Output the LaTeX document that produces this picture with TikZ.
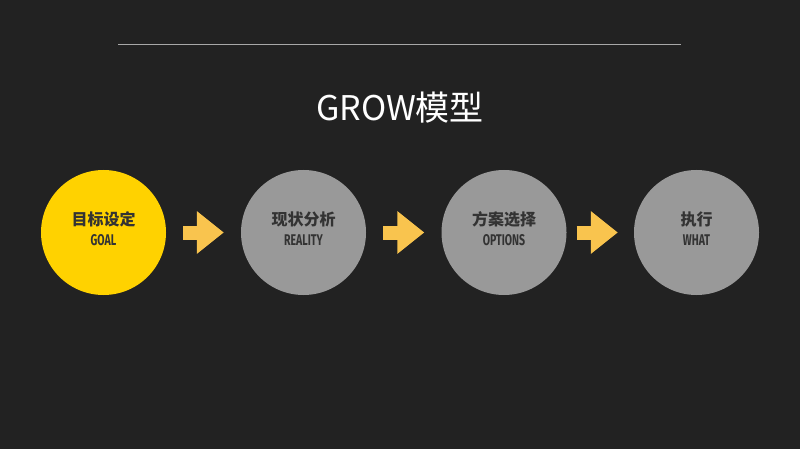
\documentclass[tikz,border=0pt]{standalone}
\usepackage{fontspec}
\setmainfont{Noto Sans CJK SC}
\newfontfamily\condfont[FakeStretch=0.68]{Fira Sans}
\usetikzlibrary{arrows.meta, positioning}

\definecolor{bg}{HTML}{222222}
\definecolor{rulegray}{HTML}{A8A8A8}
\definecolor{goalyellow}{HTML}{FFD200}
\definecolor{stagegray}{HTML}{999999}
\definecolor{stagetext}{HTML}{333333}
\definecolor{flowyellow}{HTML}{F9C44E}

\newcommand{\enlbl}{\fontsize{15.5}{20}\selectfont\condfont\bfseries}

\begin{document}
\begin{tikzpicture}[
    x=1pt, y=-1pt,
    stage/.style={circle, minimum size=125pt, inner sep=0pt,
                  fill=stagegray, text=stagetext, align=center,
                  text depth=7pt,
                  font=\fontsize{16}{20}\selectfont\bfseries},
    heading/.style={text=white, font=\fontsize{34}{40}\selectfont},
    flow/.style={draw=flowyellow, line width=14pt,
                 -{Triangle[length=27pt, width=41pt]},
                 shorten <=17pt, shorten >=17pt}
  ]
  \fill[bg] (0,0) rectangle (800,449);
  \useasboundingbox (0,0) rectangle (800,449);

  % header
  \coordinate (ruleL) at (118,45);
  \coordinate (ruleR) at (681,45);
  \draw[rulegray, line width=1pt] (ruleL) -- (ruleR);
  \node[heading] (title) at (400,108) {GROW模型};

  % stages
  \node[stage, fill=goalyellow] (goal) at (103.5,232.5)
    {目标设定\\\enlbl GOAL};
  \node[stage] (reality) at (303.5,232.5)
    {现状分析\\\enlbl REALITY};
  \node[stage] (options) at (504,232.5)
    {方案选择\\\enlbl OPTIONS};
  \node[stage] (what) at (696.5,232.5)
    {执行\\\enlbl WHAT};

  % arrows
  \draw[flow] (goal) -- (reality);
  \draw[flow] (reality) -- (options);
  \draw[flow, shorten <=10pt, shorten >=16pt] (options) -- (what);
\end{tikzpicture}
\end{document}
